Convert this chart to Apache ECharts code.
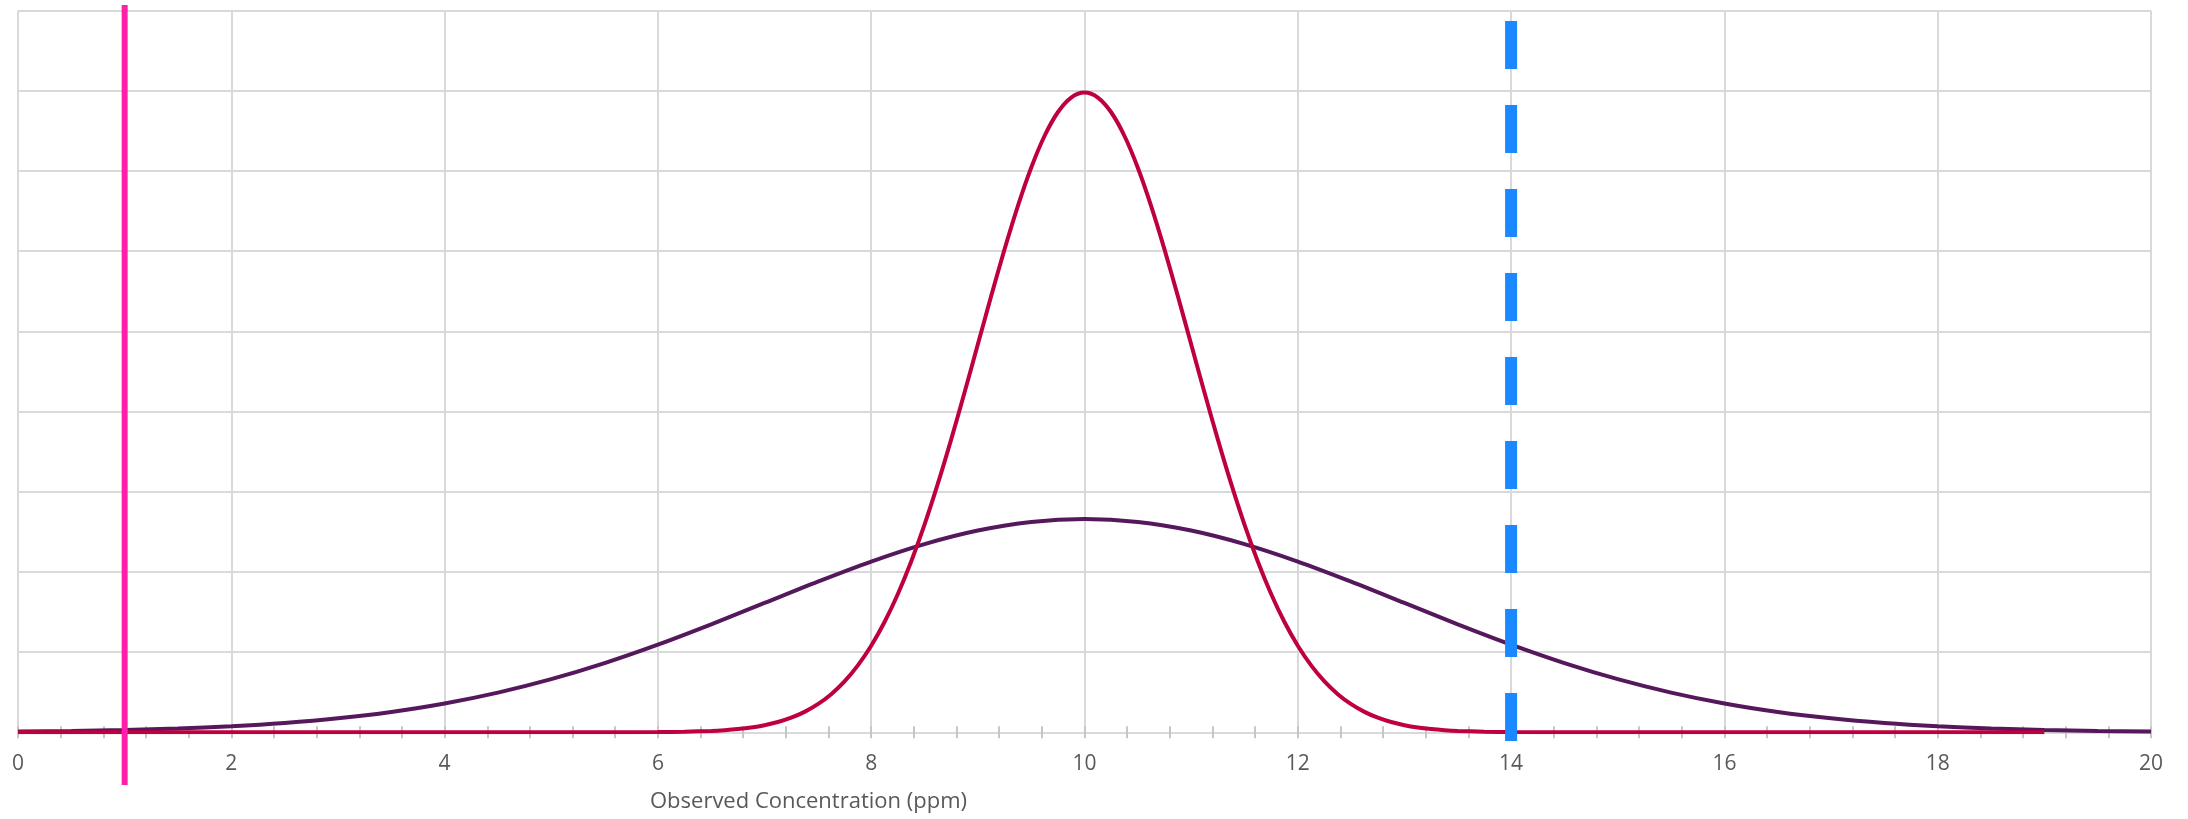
<!DOCTYPE html>
<html>
<head>
<meta charset="utf-8">
<script src="https://cdn.jsdelivr.net/npm/echarts@6/dist/echarts.min.js"></script>
<style>
  html, body { margin: 0; padding: 0; background: #ffffff; }
  #chart { width: 2188px; height: 819px; }
</style>
</head>
<body>
<div id="chart"></div>
<script>
// Narrow distribution (mean 10 ppm, sd 1 ppm): x positions and densities
const narrowX = [0, 1, 2, 3, 4, 5, 5.5, 6, 6.25,
                 6.5, 6.625, 6.75, 6.875, 7, 7.125, 7.25, 7.375, 7.5, 7.625, 7.75, 7.875,
                 8, 8.125, 8.25, 8.375, 8.5, 8.625, 8.75, 8.875, 9, 9.125, 9.25, 9.375, 9.5, 9.625, 9.75, 9.875, 10,
                 10.125, 10.25, 10.375, 10.5, 10.625, 10.75, 10.875, 11, 11.125, 11.25, 11.375, 11.5, 11.625, 11.75, 11.875,
                 12, 12.125, 12.25, 12.375, 12.5, 12.625, 12.75, 12.875, 13, 13.125, 13.25, 13.375, 13.5,
                 13.75, 14, 14.5, 15, 16, 17, 18, 19];
const narrowY = [0, 0, 0, 0, 0, 0.0000015, 0.000016, 0.000134, 0.000353,
                 0.000873, 0.001341, 0.002029, 0.003022, 0.004432, 0.006397, 0.009094, 0.012725, 0.017528, 0.023771, 0.03174, 0.041741,
                 0.053991, 0.068787, 0.086277, 0.106543, 0.129518, 0.155018, 0.182649, 0.211879,
                 0.241971, 0.272056, 0.301137, 0.328161, 0.352065, 0.371856, 0.386668, 0.395837, 0.398942,
                 0.395837, 0.386668, 0.371856, 0.352065, 0.328161, 0.301137, 0.272056, 0.241971,
                 0.211879, 0.182649, 0.155018, 0.129518, 0.106543, 0.086277, 0.068787,
                 0.053991, 0.041741, 0.03174, 0.023771, 0.017528, 0.012725, 0.009094, 0.006397, 0.004432, 0.003022, 0.002029, 0.001341, 0.000873,
                 0.000353, 0.000134, 0.000016, 0.0000015, 0, 0, 0, 0];

// Wide distribution (mean 10 ppm, sd 3 ppm)
const wideX = [0, 0.5, 1, 1.5, 2, 2.5, 3, 3.5, 4, 4.5, 5, 5.5, 6, 6.5, 7, 7.5, 8, 8.5, 9, 9.5, 10,
               10.5, 11, 11.5, 12, 12.5, 13, 13.5, 14, 14.5, 15, 15.5, 16, 16.5, 17, 17.5, 18, 18.5, 19, 19.5, 20];
const wideY = [0.000514, 0.000884, 0.001477, 0.002402, 0.003799, 0.005843, 0.008741, 0.012717, 0.017997, 0.02477, 0.033159,
               0.043173, 0.05467, 0.067333, 0.080657, 0.093971, 0.106483, 0.117355, 0.125794, 0.131147, 0.132981,
               0.131147, 0.125794, 0.117355, 0.106483, 0.093971, 0.080657, 0.067333, 0.05467, 0.043173, 0.033159,
               0.02477, 0.017997, 0.012717, 0.008741, 0.005843, 0.003799, 0.002402, 0.001477, 0.000884, 0.000514];

// Vertical reference lines: concentration and the density span they cover
const lowerLimitX = 1;
const lowerLimitSpan = [0.4536, -0.0329];
const upperLimitX = 14;
const upperLimitSpan = [0.4436, -0.0054];

// Axis settings
const xTicks = { min: 0, max: 20, interval: 2 };
const yTicks = { min: 0, max: 0.45, interval: 0.05 };
const xAxisTitle = 'Observed Concentration (ppm)';

const pairs = (xs, ys) => xs.map((x, i) => [x, ys[i]]);
const vertical = (x, span) => span.map(y => [x, y]);

const gridColor = '#d9d9d9';
const tickColor = '#c6c6c6';
const textColor = '#595959';
const fontFamily = '"Open Sans", Lato, sans-serif';

const chart = echarts.init(document.getElementById('chart'), null, { renderer: 'canvas' });

const option = {
  animation: false,
  backgroundColor: '#ffffff',
  grid: { left: 18, right: 37, top: 10.7, bottom: 86.7, containLabel: false, outerBoundsMode: 'none' },
  xAxis: [
    {
      type: 'value',
      min: xTicks.min, max: xTicks.max, interval: xTicks.interval,
      name: xAxisTitle,
      nameLocation: 'middle',
      nameGap: 58,
      // title sits left of the plot centre
      nameTextStyle: { color: textColor, fontSize: 22, fontFamily, padding: [0, 552, 0, 0] },
      axisLine: { show: true, lineStyle: { color: gridColor, width: 2 } },
      axisTick: { show: true, length: 6, lineStyle: { color: tickColor, width: 2 } },
      minorTick: { show: true, splitNumber: 5, length: 6, lineStyle: { color: tickColor, width: 2 } },
      axisLabel: { color: textColor, fontSize: 21, fontFamily, margin: 21 },
      splitLine: { show: true, lineStyle: { color: gridColor, width: 2 } }
    },
    {
      // inner half of the crossing tick marks
      type: 'value',
      position: 'bottom',
      min: xTicks.min, max: xTicks.max, interval: xTicks.interval,
      axisLine: { show: false },
      axisTick: { show: true, inside: true, length: 6, lineStyle: { color: tickColor, width: 2 } },
      minorTick: { show: true, splitNumber: 5, length: 6, lineStyle: { color: tickColor, width: 2 } },
      axisLabel: { show: false },
      splitLine: { show: false }
    }
  ],
  yAxis: {
    type: 'value',
    min: yTicks.min, max: yTicks.max, interval: yTicks.interval,
    axisLine: { show: false },
    axisTick: { show: false },
    axisLabel: { show: false },
    splitLine: { show: true, lineStyle: { color: gridColor, width: 2 } }
  },
  series: [
    {
      name: 'sd 3',
      type: 'line',
      data: pairs(wideX, wideY),
      smooth: 0.3,
      showSymbol: false,
      lineStyle: { color: '#55185C', width: 4 },
      z: 2
    },
    {
      name: 'sd 1',
      type: 'line',
      data: pairs(narrowX, narrowY),
      smooth: 0.3,
      showSymbol: false,
      lineStyle: { color: '#BF003F', width: 4 },
      z: 3
    },
    {
      name: 'lower limit',
      type: 'line',
      data: vertical(lowerLimitX, lowerLimitSpan),
      clip: false,
      showSymbol: false,
      lineStyle: { color: '#FF1FA9', width: 6, cap: 'butt' },
      z: 4
    },
    {
      name: 'upper limit',
      type: 'line',
      data: vertical(upperLimitX, upperLimitSpan),
      clip: false,
      showSymbol: false,
      lineStyle: { color: '#1A88FF', width: 12, type: [48, 36], cap: 'butt' },
      z: 5
    }
  ]
};

chart.setOption(option);
</script>
</body>
</html>
